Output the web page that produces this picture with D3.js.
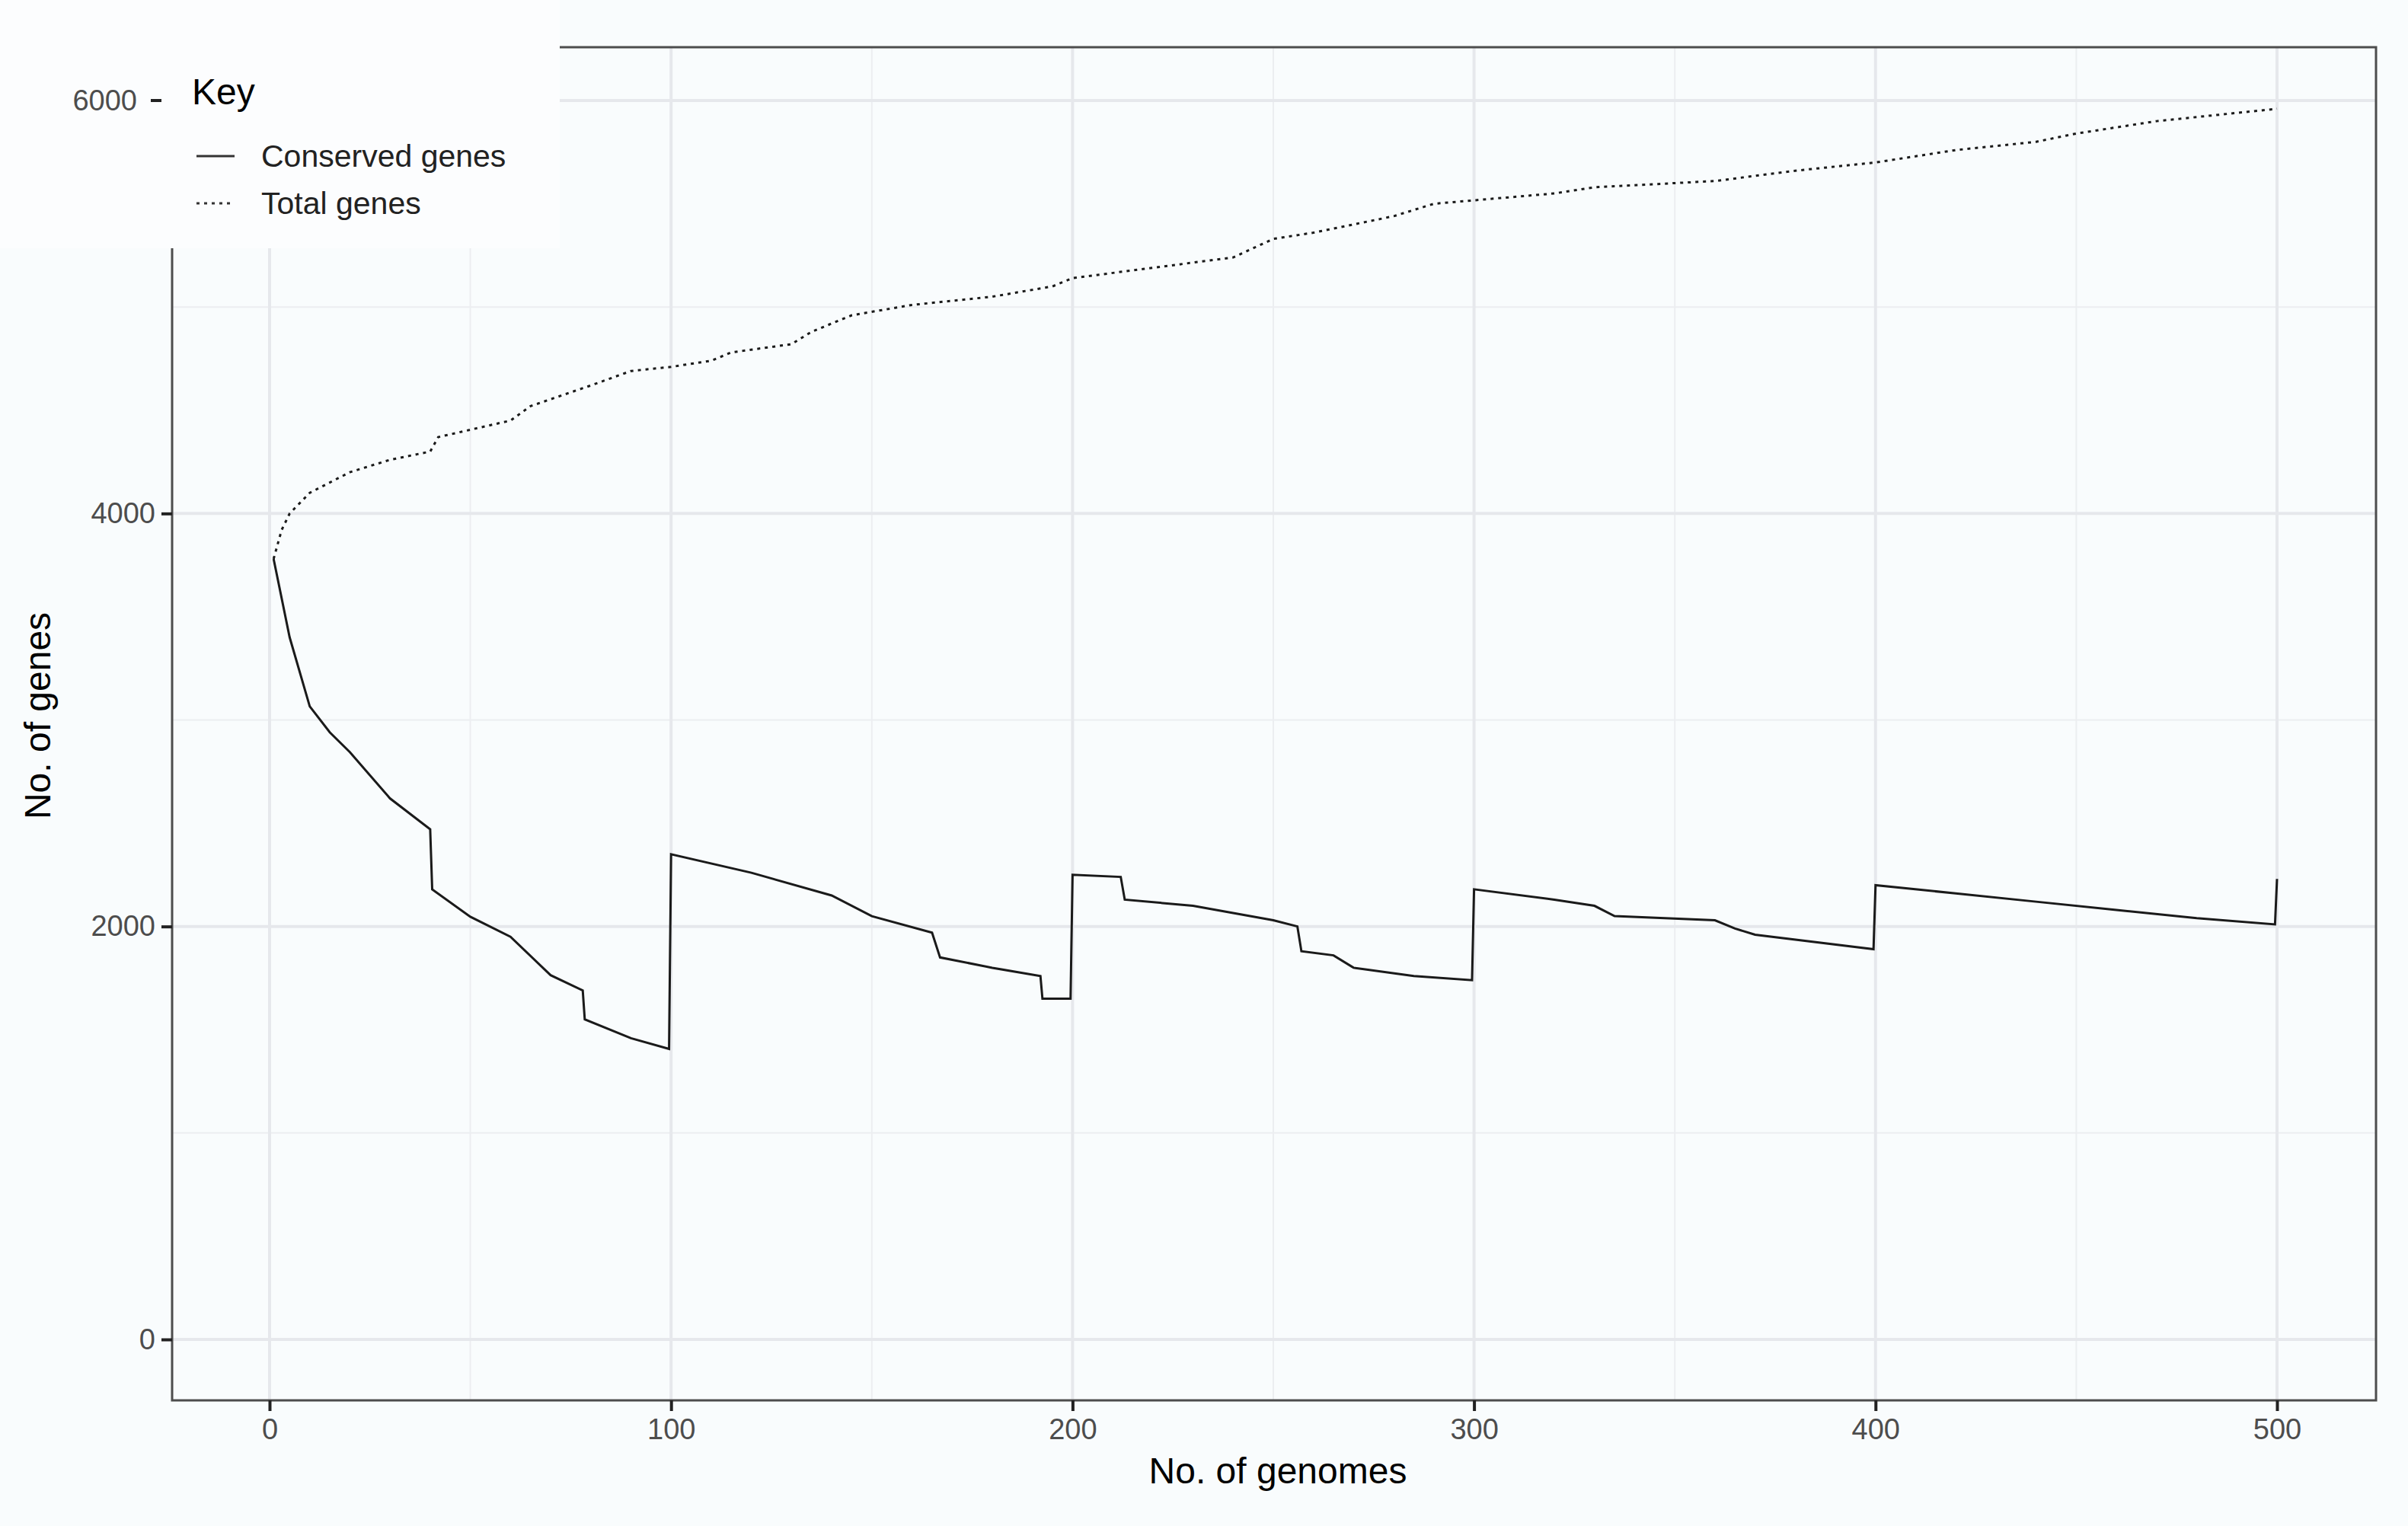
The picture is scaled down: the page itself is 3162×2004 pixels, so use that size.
<!DOCTYPE html>
<html><head><meta charset="utf-8">
<script src="https://cdn.jsdelivr.net/npm/d3@7"></script>
<style>body{margin:0;background:#f9fcfd;}text{font-family:"Liberation Sans",Arial,sans-serif;}</style>
</head><body><div id="chart"></div>
<script>
// conserved genes: genome count / gene count (jumps encoded as repeated x)
const conservedX = [1,5,10,15,20,30,40,40.5,50,60,70,78,78.5,90,99.5,100,120,140,150,165,167,180,192,192.5,199.5,200,212,213,230,250,256,257,265,270,285,299.5,300,320,330,335,360,365,370,399.5,400,420,440,460,480,499.5,500];
const conservedY = [3780,3400,3066,2940,2844,2620,2471,2180,2047,1950,1764,1690,1550,1459,1407,2350,2260,2150,2050,1970,1850,1800,1760,1650,1650,2250,2240,2130,2100,2030,2000,1880,1860,1800,1760,1740,2180,2130,2100,2050,2030,1990,1960,1890,2200,2160,2120,2080,2040,2010,2230];
const totalX = [1,3,5,10,20,30,40,42,60,65,80,90,100,110,115,130,135,145,160,180,195,200,220,240,250,260,280,290,320,330,360,380,400,420,440,450,470,500];
const totalY = [3780,3920,4000,4100,4200,4260,4300,4370,4450,4520,4620,4690,4710,4740,4780,4820,4880,4960,5010,5050,5100,5140,5190,5240,5330,5360,5440,5500,5550,5580,5610,5660,5700,5760,5800,5840,5900,5960];
const xTicks = [0,100,200,300,400,500];
const yTicks = [0,2000,4000,6000];

const W = 3162, H = 2004;
const panel = {left: 226, right: 3120, top: 62, bottom: 1839};

const svg = d3.select('#chart').append('svg').attr('width', W).attr('height', H);
svg.append('rect').attr('width', W).attr('height', H).attr('fill', '#f9fcfd');

const x = d3.scaleLinear().domain([0, 500]).range([354, 2990]);
const y = d3.scaleLinear().domain([0, 6000]).range([1759, 132]);

const grid = svg.append('g');
d3.range(50, 500, 100).forEach(v => grid.append('line').attr('x1', x(v)).attr('x2', x(v)).attr('y1', panel.top).attr('y2', panel.bottom).attr('stroke', '#eceef1').attr('stroke-width', 2));
d3.range(1000, 6000, 2000).forEach(v => grid.append('line').attr('x1', panel.left).attr('x2', panel.right).attr('y1', y(v)).attr('y2', y(v)).attr('stroke', '#eceef1').attr('stroke-width', 2));
xTicks.forEach(v => grid.append('line').attr('x1', x(v)).attr('x2', x(v)).attr('y1', panel.top).attr('y2', panel.bottom).attr('stroke', '#e6e8ec').attr('stroke-width', 4));
yTicks.forEach(v => grid.append('line').attr('x1', panel.left).attr('x2', panel.right).attr('y1', y(v)).attr('y2', y(v)).attr('stroke', '#e6e8ec').attr('stroke-width', 4));

const line = d3.line().x(d => x(d[0])).y(d => y(d[1]));
svg.append('path').datum(d3.zip(conservedX, conservedY)).attr('d', line)
	.attr('fill', 'none').attr('stroke', '#1a1a1a').attr('stroke-width', 3);
svg.append('path').datum(d3.zip(totalX, totalY)).attr('d', line)
	.attr('fill', 'none').attr('stroke', '#1a1a1a').attr('stroke-width', 3).attr('stroke-dasharray', '4,6');

svg.append('rect').attr('x', panel.left).attr('y', panel.top).attr('width', panel.right - panel.left).attr('height', panel.bottom - panel.top)
	.attr('fill', 'none').attr('stroke', '#4d4d4d').attr('stroke-width', 3);

// axes (6000 is drawn over the legend box below)
const xAxis = svg.append('g').attr('transform', `translate(0,${panel.bottom})`)
	.call(d3.axisBottom(x).tickValues(xTicks).tickFormat(d3.format('d')).tickSize(14).tickPadding(10));
const yAxis = svg.append('g').attr('transform', `translate(${panel.left},0)`)
	.call(d3.axisLeft(y).tickValues(yTicks.slice(0, 3)).tickFormat(d3.format('d')).tickSize(14).tickPadding(8));
[xAxis, yAxis].forEach(a => {
	a.select('.domain').remove();
	a.selectAll('line').attr('stroke', '#222').attr('stroke-width', 4);
	a.selectAll('text').attr('font-size', 38).attr('fill', '#4d4d4d').attr('font-family', 'Liberation Sans');
});

svg.append('text').attr('x', 1678).attr('y', 1948).attr('text-anchor', 'middle').attr('font-size', 48).text('No. of genomes');
svg.append('text').attr('transform', 'translate(66,940) rotate(-90)').attr('text-anchor', 'middle').attr('font-size', 48).text('No. of genes');

// legend box over top-left of panel
svg.append('rect').attr('x', 0).attr('y', 0).attr('width', 735).attr('height', 326).attr('fill', '#fcfdfe');
svg.append('text').attr('x', 180).attr('y', y(6000) + 13).attr('text-anchor', 'end').attr('font-size', 38).attr('fill', '#4d4d4d').text(yTicks[3]);
svg.append('line').attr('x1', 198).attr('x2', 212).attr('y1', y(6000)).attr('y2', y(6000)).attr('stroke', '#222').attr('stroke-width', 4);
svg.append('text').attr('x', 252).attr('y', 137).attr('font-size', 48).text('Key');
const keys = [['Conserved genes', null], ['Total genes', '4,6']];
keys.forEach((k, i) => {
	const yy = 205 + i * 62;
	svg.append('line').attr('x1', 258).attr('x2', 308).attr('y1', yy).attr('y2', yy)
		.attr('stroke', '#333').attr('stroke-width', 3).attr('stroke-dasharray', k[1]);
	svg.append('text').attr('x', 343).attr('y', yy + 14).attr('font-size', 41).attr('fill', '#222').text(k[0]);
});
</script></body></html>
